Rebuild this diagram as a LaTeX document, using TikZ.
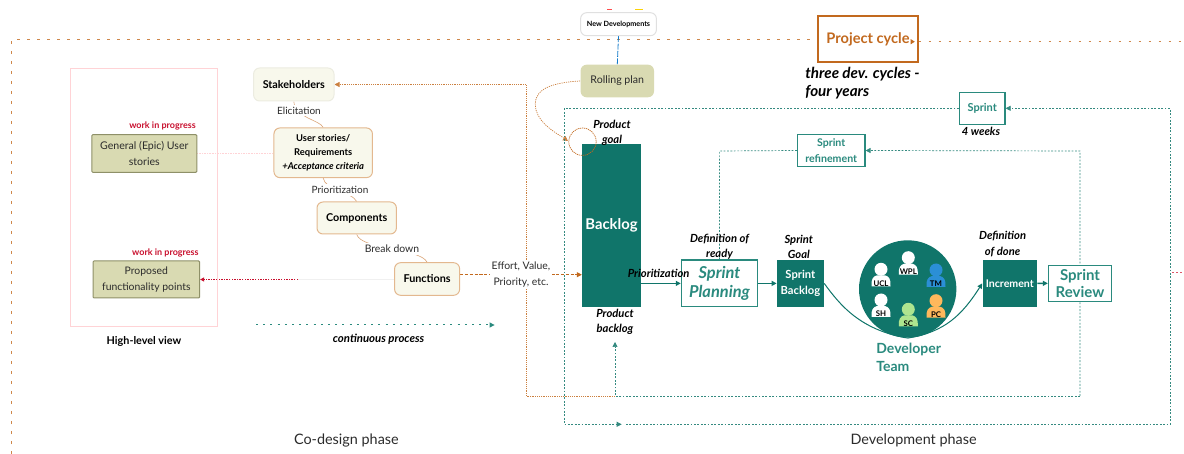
\documentclass[tikz,border=0pt]{standalone}
\usepackage{fontspec}
\setmainfont{Lato}
\usetikzlibrary{arrows.meta,backgrounds}
\definecolor{teal1}{HTML}{10756A}
\definecolor{teal2}{HTML}{2A8A7E}
\definecolor{orng}{HTML}{C2691E}
\definecolor{orngl}{HTML}{E3B88F}
\definecolor{olive}{HTML}{D9DAB2}
\definecolor{oliveb}{HTML}{8E9068}
\definecolor{cream}{HTML}{F8F8EC}
\definecolor{redt}{HTML}{C8102E}
\definecolor{pinkl}{HTML}{FFD3D6}
\definecolor{gtxt}{HTML}{2B2B2B}
\definecolor{pblue}{HTML}{2B8FD6}
\definecolor{porng}{HTML}{FFB85C}
\definecolor{pgreen}{HTML}{AEE58F}
\newcommand{\fsz}[1]{\fontsize{#1}{#1}\selectfont}
\newcommand{\devp}[5]{%
  \fill[#3] (#1-9.5,#2+17) .. controls (#1-10,#2+10) and (#1-8,#2+7) .. (#1-4,#2+6) -- (#1+4,#2+6) .. controls (#1+8,#2+7) and (#1+10,#2+10) .. (#1+9.5,#2+17) -- cycle;
  \fill[#3] (#1,#2) circle[radius=6.5];
  \node[txt,font=\fsz{3.9}\bfseries,text=black] (#4) at (#1,#2+#5) {#4};
}
\tikzset{
  x=0.5pt,y=-0.5pt,
  sz/.style 2 args={minimum width=#1*0.5pt,minimum height=#2*0.5pt,inner sep=0pt,align=center},
  txt/.style={inner sep=0pt,align=center,text=gtxt,font=\fsz{5}},
  lbl/.style={txt,fill=white,inner sep=1pt},
  ital/.style={txt,text=black,font=\fsz{5.6}\bfseries\itshape},
  creambox/.style={draw=orngl,fill=cream,rounded corners=3pt,line width=.5pt,text=black,font=\fsz{5.4}\bfseries},
  olivebox/.style={draw=oliveb,fill=olive,line width=.5pt,rounded corners=.5pt,text=gtxt,font=\fsz{5.3}},
  tealfill/.style={fill=teal1,text=white,font=\fsz{5.3}\bfseries},
  tealline/.style={draw=teal2,fill=white,line width=.6pt,text=teal2,font=\fsz{5.3}\bfseries},
  wip/.style={txt,text=redt,font=\fsz{4.5}\bfseries},
  outerdots/.style={draw=orng!80,line width=.4pt,dash pattern=on 1.5pt off 3.5pt},
  orngdots/.style={draw=orng!85,line width=.35pt,dash pattern=on .6pt off .5pt},
  tealdots/.style={draw=teal1!85,line width=.35pt,dash pattern=on .9pt off .8pt},
  tip/.style={-{Triangle[length=2.5pt,width=2.5pt]}},
  soft/.style={draw=orng!60,line width=.3pt},
}
\begin{document}
\begin{tikzpicture}
\useasboundingbox (0,0) rectangle (1184,454);
% boxes
\node[draw=pinkl,line width=.5pt,sz={146.5}{258.3}] (view) at (144.2,197.8) {};
\node[creambox,draw=cream!90!gray,sz={80.4}{33}] (stake) at (293.8,84.5) {Stakeholders};
\node[creambox,sz={98.5}{49.7},font=\fsz{4.7}\bfseries,align=center] (user) at (323.2,152.8) {User stories/\\[2.4pt]Requirements\\[2.4pt]\itshape +Acceptance criteria};
\node[creambox,sz={79.4}{32}] (comp) at (356.7,218) {Components};
\node[creambox,sz={65}{32.6}] (func) at (427.1,279) {Functions};
\node[olivebox,sz={105}{37.6}] (epic) at (144.3,153.5) {General (Epic) User\\[3pt]stories};
\node[olivebox,font=\fsz{5.2},sz={106.6}{37}] (prop) at (146.3,279.5) {Proposed\\[3pt]functionality points};
\node[wip] (w1) at (162.5,126) {work in progress};
\node[wip] (w2) at (165.4,252.7) {work in progress};
\node[txt,text=black,font=\fsz{5.4}\bfseries] (hlv) at (144,341) {High-level view};
\node[ital,font=\fsz{5.7}\bfseries\itshape] (cont) at (378.6,339) {continuous process};
\node[txt,font=\fsz{7.2}] (cod) at (346.4,440.7) {Co-design phase};
\node[lbl] (eli) at (299,110.7) {Elicitation};
\node[lbl] (pri) at (340,190) {Prioritization};
\node[lbl,font=\fsz{5.2}] (brk) at (392,248.7) {Break down};
\node[lbl,font=\fsz{5.2}] (eff) at (521,274.5) {Effort, Value,\\[2.6pt]Priority, etc.};
\node[draw=black!12,fill=white,rounded corners=3pt,line width=.5pt,sz={75.8}{23},text=black,font=\fsz{3.6}\bfseries] (newd) at (618.5,24.2) {New Developments};
\node[fill=olive,rounded corners=3pt,sz={73.4}{32.6},text=gtxt,font=\fsz{5.3}] (roll) at (617.3,81) {Rolling plan};
\node[draw=orng,fill=white,line width=.6pt,sz={100}{46}] (proj) at (868,39) {};
\node[txt,text=orng,font=\fsz{7.3}\bfseries] (projt) at (868,39.5) {Project cycle};
\node[ital,font=\fsz{7.6}\bfseries\itshape,align=left,anchor=west] (three) at (805,74) {three dev. cycles -};
\node[ital,font=\fsz{7.6}\bfseries\itshape,align=left,anchor=west] (fouryr) at (805,92) {four years};
\node[tealline,sz={45.6}{32},font=\fsz{5.5}\bfseries] (sprint) at (982.2,108.3) {Sprint};
\node[ital] (weeks) at (981,131.3) {4 weeks};
\node[tealline,sz={67.5}{32.4}] (refine) at (831.2,150.5) {Sprint\\[2.5pt]refinement};
\node[tealfill,sz={58.5}{163},font=\fsz{7.4}\bfseries] (backlog) at (611.5,225.2) {Backlog};
\node[ital] (goal) at (612,133.2) {Product\\[1.8pt]goal};
\node[ital] (pback) at (615,322) {Product\\[2.2pt]backlog};
\node[tealline,sz={76.3}{46.7},font=\fsz{8.2}\bfseries\itshape] (plan) at (719.5,283.4) {Sprint\\[1.2pt]Planning};
\node[tealfill,sz={46.8}{46.7},font=\fsz{5.6}\bfseries] (sback) at (800.4,283.4) {Sprint\\[2pt]Backlog};
\node[tealfill,sz={54.3}{46.7}] (incr) at (1009.8,283.4) {Increment};
\node[tealline,sz={63.1}{36},font=\fsz{7.5}\bfseries] (rev) at (1080,283.3) {Sprint\\[1.2pt]Review};
\node[ital] (ready) at (719.5,247) {Definition of\\[2pt]ready};
\node[ital] (sgoal) at (798.8,247) {Sprint\\[2pt]Goal};
\node[ital] (done) at (1002.6,244) {Definition\\[2pt]of done};
\node[ital] (prio) at (658.6,273) {Prioritization};
\node[fill=teal1,circle,minimum width=48.7pt,inner sep=0pt] (team) at (907.7,289) {};
\devp{908.3}{257.7}{white}{WPL}{14}
\devp{881}{269.3}{white}{UCL}{14}
\devp{936}{270}{pblue}{TM}{14}
\devp{881}{300}{white}{SH}{14}
\devp{936}{300.7}{porng}{PC}{14}
\devp{908.3}{309.3}{pgreen}{SC}{14}
\node[txt,text=teal2,font=\fsz{7}\bfseries,align=left,anchor=west] (dev) at (876,349) {Developer};
\node[txt,text=teal2,font=\fsz{7}\bfseries,align=left,anchor=west] (tm) at (876,366.7) {Team};
\node[txt,font=\fsz{7.2}] (devph) at (913.6,440.7) {Development phase};
% free corners
\coordinate (oL) at (11.8,39.3);
\coordinate (oB) at (11.8,454);
\coordinate (oR) at (1184,41.7);
\coordinate (pkA) at (1172,272.7);
\coordinate (pkB) at (1184,272.7);
\coordinate (cA) at (256,325);
\coordinate (cB) at (494.6,325);
\coordinate (fbR) at (298,279.5);
\coordinate (rA) at (526.8,84.5);
\coordinate (rB) at (526.8,396);
\coordinate (rC) at (615,396);
\coordinate (rD) at (615,342);
\coordinate (gA) at (1080,396);
\coordinate (gB) at (1080,151);
\coordinate (gC) at (719.6,151);
\coordinate (fA) at (564.5,108.3);
\coordinate (fB) at (564.5,424.3);
\coordinate (fC) at (621.7,424.3);
\coordinate (fD) at (626,424.3);
\coordinate (fE) at (1170,424.3);
\coordinate (fF) at (1170,108.3);
\coordinate (gl) at (568,141);
\begin{pgfonlayer}{background}
\draw[outerdots] (oB) -- (oL) -- (proj.west |- oL);
\draw[outerdots,dash pattern=on 1pt off 4pt] (proj.east |- oR) -- (oR);
\draw[draw=redt!60!pink,line width=.4pt,dash pattern=on 1pt off 1pt] (pkA) -- (pkB);
\draw[draw=pinkl,line width=.4pt,dash pattern=on .8pt off .5pt] (user.west |- epic.east) -- (epic.east);
\draw[draw=black!6,line width=.3pt] (func.west |- fbR) -- (fbR);
\draw[draw=redt,line width=.3pt,dash pattern=on .7pt off .6pt,-{Triangle[length=2pt,width=2pt]}] (fbR) -- (prop.east);
\draw[soft] (stake.south) .. controls (295,118) and (320,120) .. (user.north);
\draw[soft] (user.south) .. controls (325,190) and (352,192) .. (comp.north);
\draw[soft] (comp.south) .. controls (362,250) and (420,248) .. (func.north);
\draw[draw=orng,line width=.45pt,dash pattern=on 1.6pt off .8pt,tip] (func.east |- 0,274.7) -- (backlog.west |- 0,274.7);
\draw[orngdots,tip] (rB) -- (rA) -- (stake.east);
\draw[orngdots] (rC) -- (rB);
\draw[draw=teal2,line width=.5pt,dash pattern=on 1pt off 2.6pt,tip] (cA) -- (cB);
\draw[draw=cyan!60!blue,line width=.4pt,dash pattern=on 3pt off .7pt] (newd.south) -- (roll.north);
\draw[draw=red!70,line width=.5pt] (607,10) -- (612,10);
\draw[draw=yellow!70!orange,line width=.5pt] (635,10) -- (643,10);
\draw[orngdots,tip] (roll.west) .. controls (545,83) and (532,92) .. (536,110) .. controls (540,125) and (558,134) .. (gl);
\draw[tealdots] (sprint.west) -- (fA) -- (fB);
\draw[tealdots,tip] (fB) -- (fC);
\draw[tealdots,tip] (fD) -- (fE) -- (fF) -- (sprint.east);
\draw[tealdots] (refine.west) -- (gC) -- (plan.north);
\draw[tealdots,tip] (gA) -- (gB) -- (refine.east);
\draw[tealdots,tip] (gA) -- (rC) -- (rD);
\draw[draw=teal1,line width=.8pt,tip] (backlog.east |- plan.east) -- (plan.west);
\draw[draw=teal1,line width=.8pt,tip] (plan.east) -- (sback.west);
\draw[draw=teal1,line width=.8pt,tip] (incr.east) -- (rev.west);
\draw[draw=teal1,line width=.5pt] (sback.east) .. controls (840,305) and (860,330) .. (team.south);
\draw[draw=teal1,line width=.5pt,tip] (team.south) .. controls (945,332) and (962,315) .. (incr.west);
\end{pgfonlayer}
\draw[draw=orng,line width=.35pt,dash pattern=on .6pt off .4pt] (582.5,141.7) circle[radius=13.7];
\draw[draw=orng,fill=orng] (914,41.7) -- (911,39.8) -- (911,43.6) -- cycle;
\end{tikzpicture}
\end{document}
